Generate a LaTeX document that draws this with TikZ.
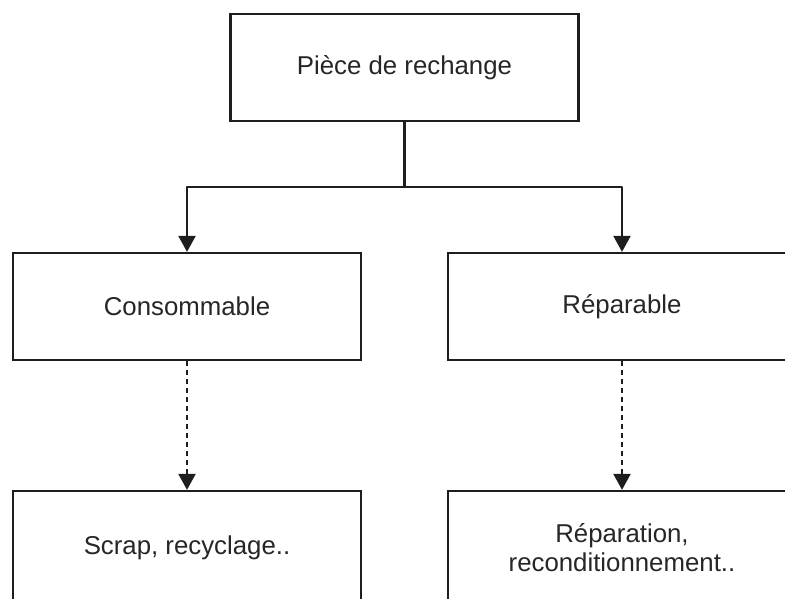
\documentclass[tikz,border=0pt]{standalone}
\usepackage{fontspec}
\setmainfont{Liberation Sans}
\usetikzlibrary{arrows.meta}
\definecolor{edge}{HTML}{1E1E1E}
\definecolor{txt}{HTML}{262626}
\tikzset{
  box/.style={draw=edge, line width=2.3pt, minimum width=348pt, minimum height=107pt, inner sep=0pt, text=txt, font=\fontsize{25.8}{29}\selectfont, align=center},
  link/.style={draw=edge, line width=2.3pt, line join=round, -{Triangle[width=17pt,length=16pt]}},
  dlink/.style={link, dash pattern=on 5pt off 4pt}
}
\begin{document}
\begin{tikzpicture}[x=1pt,y=-1pt]
\clip (0,0) rectangle (785,599);
\node[box] (top) at (404.5,67.5) {Pièce de rechange};
\node[box] (cons) at (187,306.5) {Consommable};
\node[box] (rep) at (622,306.5) {Réparable};
\node[box, minimum height=114pt] (scrap) at (187,548) {Scrap, recyclage..};
\node[box, minimum height=114pt] (recon) at (622,548) {Réparation,\\reconditionnement..};
\coordinate (j) at (404.5,187);
\draw[link] (top.south) -- (j) -| (cons.north);
\draw[link] (top.south) -- (j) -| (rep.north);
\draw[dlink] (cons.south) -- (scrap.north);
\draw[dlink] (rep.south) -- (recon.north);
\end{tikzpicture}
\end{document}
